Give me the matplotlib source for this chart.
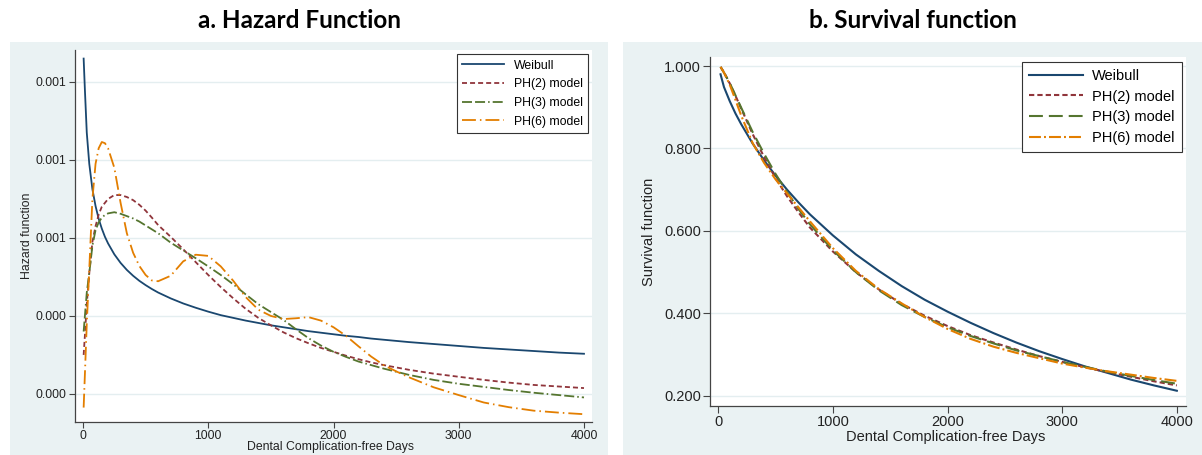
import matplotlib
matplotlib.use("Agg")
import matplotlib.pyplot as plt
from matplotlib.patches import Rectangle
from matplotlib.ticker import FixedLocator, StrMethodFormatter

plt.rcParams['font.family'] = ['Liberation Sans', 'DejaVu Sans']
plt.rcParams['lines.scale_dashes'] = False

# ---- data ----
series_names = ['Weibull', 'PH(2) model', 'PH(3) model', 'PH(6) model']

hazard_days = [5, 15, 30, 50, 75, 100, 125, 150, 175, 200, 250, 300, 350, 400,
               450, 500, 550, 600, 700, 800, 900, 1000, 1100, 1200, 1300, 1400,
               1500, 1600, 1700, 1800, 1900, 2000, 2100, 2200, 2300, 2400, 2500,
               2600, 2800, 3000, 3200, 3400, 3600, 3800, 4000]

hazard_weibull = [0.00106, 0.00098, 0.00087, 0.00079, 0.000725, 0.000682, 0.000649,
                  0.000624, 0.000603, 0.000586, 0.000558, 0.000536, 0.000518, 0.000503,
                  0.00049, 0.000479, 0.000469, 0.00046, 0.000445, 0.000432, 0.000421,
                  0.000411, 0.000402, 0.000395, 0.000388, 0.000382, 0.000376, 0.000371,
                  0.000366, 0.000361, 0.000357, 0.000353, 0.000349, 0.000346, 0.000342,
                  0.000339, 0.000336, 0.000333, 0.000328, 0.000323, 0.000318, 0.000314,
                  0.00031, 0.000306, 0.000303]

hazard_ph2 = [0.0003, 0.00035, 0.00043, 0.00051, 0.00059, 0.00063, 0.00066, 0.00068,
              0.00069, 0.0007, 0.00071, 0.00071, 0.000705, 0.000697, 0.000685, 0.00067,
              0.000652, 0.000633, 0.000603, 0.000571, 0.000538, 0.000505, 0.000474,
              0.000445, 0.000418, 0.000395, 0.000376, 0.000358, 0.000343, 0.00033,
              0.000318, 0.000308, 0.000298, 0.000289, 0.000281, 0.000274, 0.000268,
              0.000262, 0.000252, 0.000244, 0.000236, 0.000229, 0.000223, 0.000219,
              0.000215]

hazard_ph3 = [0.00036, 0.0004, 0.00046, 0.00051, 0.00058, 0.00062, 0.00064, 0.000652,
              0.000659, 0.000663, 0.000666, 0.000662, 0.000656, 0.00065, 0.000642,
              0.000632, 0.000622, 0.000612, 0.000588, 0.000568, 0.000548, 0.000527,
              0.000505, 0.000481, 0.000455, 0.00043, 0.00041, 0.00039, 0.000366,
              0.000343, 0.000324, 0.000308, 0.000295, 0.000283, 0.000274, 0.000265,
              0.000257, 0.000249, 0.000236, 0.000226, 0.000218, 0.00021, 0.000203,
              0.000197, 0.000191]

hazard_ph6 = [0.000165, 0.00025, 0.00038, 0.00052, 0.0007, 0.00079, 0.00083, 0.000846,
              0.000843, 0.00083, 0.00078, 0.00069, 0.000612, 0.000562, 0.000528,
              0.000505, 0.000491, 0.000489, 0.000503, 0.00054, 0.000557, 0.000554,
              0.000527, 0.00049, 0.000448, 0.000416, 0.0004, 0.000392, 0.000394,
              0.000397, 0.000388, 0.000371, 0.000349, 0.000322, 0.000296, 0.000274,
              0.000258, 0.000243, 0.000217, 0.000197, 0.000178, 0.000166, 0.000157,
              0.000152, 0.000148]

survival_days = [20, 50, 100, 150, 200, 300, 400, 500, 600, 700, 800, 1000, 1200, 1400,
                 1600, 1800, 2000, 2200, 2400, 2600, 2800, 3000, 3200, 3400, 3600,
                 3800, 4000]

survival_weibull = [0.98, 0.949, 0.915, 0.885, 0.859, 0.812, 0.771, 0.734, 0.7, 0.669,
                    0.64, 0.589, 0.543, 0.503, 0.466, 0.433, 0.404, 0.377, 0.352,
                    0.329, 0.308, 0.289, 0.271, 0.255, 0.239, 0.225, 0.212]

survival_ph2 = [0.998, 0.985, 0.958, 0.928, 0.897, 0.835, 0.779, 0.728, 0.684, 0.645,
                0.608, 0.55, 0.5, 0.458, 0.423, 0.394, 0.369, 0.347, 0.329, 0.312,
                0.296, 0.282, 0.269, 0.257, 0.246, 0.235, 0.225]

survival_ph3 = [0.998, 0.984, 0.959, 0.929, 0.899, 0.84, 0.787, 0.738, 0.694, 0.653,
                0.616, 0.553, 0.5, 0.456, 0.42, 0.391, 0.366, 0.345, 0.327, 0.31,
                0.296, 0.282, 0.27, 0.258, 0.248, 0.238, 0.229]

survival_ph6 = [0.998, 0.984, 0.955, 0.918, 0.88, 0.813, 0.765, 0.725, 0.691, 0.657,
                0.623, 0.558, 0.503, 0.459, 0.424, 0.391, 0.362, 0.338, 0.319, 0.304,
                0.291, 0.278, 0.268, 0.259, 0.251, 0.243, 0.236]

day_ticks = [0, 1000, 2000, 3000, 4000]
hazard_ticks = [0.0002, 0.0004, 0.0006, 0.0008, 0.0010]
survival_ticks = [0.2, 0.4, 0.6, 0.8, 1.0]

# ---- stata-like style ----
colors = ['#1a476f', '#90353b', '#55752f', '#e37e00']
bg = '#eaf2f3'
grid_col = '#e4eef0'
ink = '#222222'

# dash patterns in points
left_styles = ['-', (0, (3.6, 2.2)), (0, (7.2, 2.2, 7.2, 2.2, 1.1, 2.2)),
               (0, (10, 2.9, 1.1, 2.9))]
right_styles = ['-', (0, (3.8, 2.2)), (0, (10, 4.3)), (0, (8.6, 2.2, 1.4, 2.2))]

fig = plt.figure(figsize=(12.02, 4.55), dpi=100)
fig.patches.append(Rectangle((0.0083, 0), 0.4975, 0.9077, transform=fig.transFigure,
                             facecolor=bg, edgecolor='none', zorder=-10))
fig.patches.append(Rectangle((0.5183, 0), 0.4817, 0.9077, transform=fig.transFigure,
                             facecolor=bg, edgecolor='none', zorder=-10))

fig.text(299 / 1202, 1 - 20 / 455, 'a. Hazard Function', ha='center', va='center',
         fontsize=17.5, fontweight='bold', family=['Lato', 'DejaVu Sans'])
fig.text(913 / 1202, 1 - 20 / 455, 'b. Survival function', ha='center', va='center',
         fontsize=17.5, fontweight='bold', family=['Lato', 'DejaVu Sans'])


def style_axes(ax, fs, ticklen):
    for s in ['top', 'right']:
        ax.spines[s].set_visible(False)
    for s in ['left', 'bottom']:
        ax.spines[s].set_color('#444444')
        ax.spines[s].set_linewidth(0.9)
    ax.tick_params(direction='out', length=ticklen, width=0.8, color='#444444',
                   labelsize=fs, labelcolor=ink, pad=1.5)
    ax.grid(axis='y', color=grid_col, linewidth=1.0)
    ax.set_axisbelow(True)


# ---- a. hazard ----
ax1 = fig.add_axes([75 / 1202, 33 / 455, 517 / 1202, 372 / 455])
hz = [hazard_weibull, hazard_ph2, hazard_ph3, hazard_ph6]
for vals, name, c, ls in zip(hz, series_names, colors, left_styles):
    ax1.plot(hazard_days, vals, color=c, linestyle=ls, linewidth=1.3, label=name)
ax1.set_xlim(-64, 4064)
ax1.set_ylim(0.000128, 0.001082)
ax1.xaxis.set_major_locator(FixedLocator(day_ticks))
ax1.yaxis.set_major_locator(FixedLocator(hazard_ticks))
ax1.yaxis.set_major_formatter(StrMethodFormatter('{x:.3f}'))
style_axes(ax1, 8.8, 4.5)
ax1.set_xlabel('Dental Complication-free Days', fontsize=8.8, color=ink)
ax1.xaxis.set_label_coords(0.495, -0.0672)
ax1.xaxis.label.set_va('center')
ax1.set_ylabel('Hazard function', fontsize=8.8, color=ink)
ax1.yaxis.set_label_coords(-0.0932, 0.5)
ax1.yaxis.label.set_va('center')
leg1 = ax1.legend(loc='upper right', bbox_to_anchor=(0.9923, 0.989), fontsize=8.8,
                  frameon=True, fancybox=False, edgecolor='#333333', framealpha=1,
                  handlelength=3.4, handletextpad=0.8, labelspacing=0.55,
                  borderpad=0.45, borderaxespad=0)
leg1.get_frame().set_linewidth(0.8)

# ---- b. survival ----
ax2 = fig.add_axes([710 / 1202, 49 / 455, 476 / 1202, 349 / 455])
sv = [survival_weibull, survival_ph2, survival_ph3, survival_ph6]
for vals, name, c, ls in zip(sv, series_names, colors, right_styles):
    ax2.plot(survival_days, vals, color=c, linestyle=ls, linewidth=1.5, label=name)
ax2.set_xlim(-72, 4080)
ax2.set_ylim(0.175, 1.022)
ax2.xaxis.set_major_locator(FixedLocator(day_ticks))
ax2.yaxis.set_major_locator(FixedLocator(survival_ticks))
ax2.yaxis.set_major_formatter(StrMethodFormatter('{x:.3f}'))
style_axes(ax2, 10.5, 5)
ax2.set_xlabel('Dental Complication-free Days', fontsize=10.5, color=ink)
ax2.xaxis.set_label_coords(0.496, -0.088)
ax2.xaxis.label.set_va('center')
ax2.set_ylabel('Survival function', fontsize=10.5, color=ink)
ax2.yaxis.set_label_coords(-0.129, 0.5)
ax2.yaxis.label.set_va('center')
leg2 = ax2.legend(loc='upper right', bbox_to_anchor=(0.991, 0.9865), fontsize=10.5,
                  frameon=True, fancybox=False, edgecolor='#333333', framealpha=1,
                  handlelength=3.7, handletextpad=0.6, labelspacing=0.45,
                  borderpad=0.5, borderaxespad=0)
leg2.get_frame().set_linewidth(0.8)

fig.savefig('out.png', dpi=100)
